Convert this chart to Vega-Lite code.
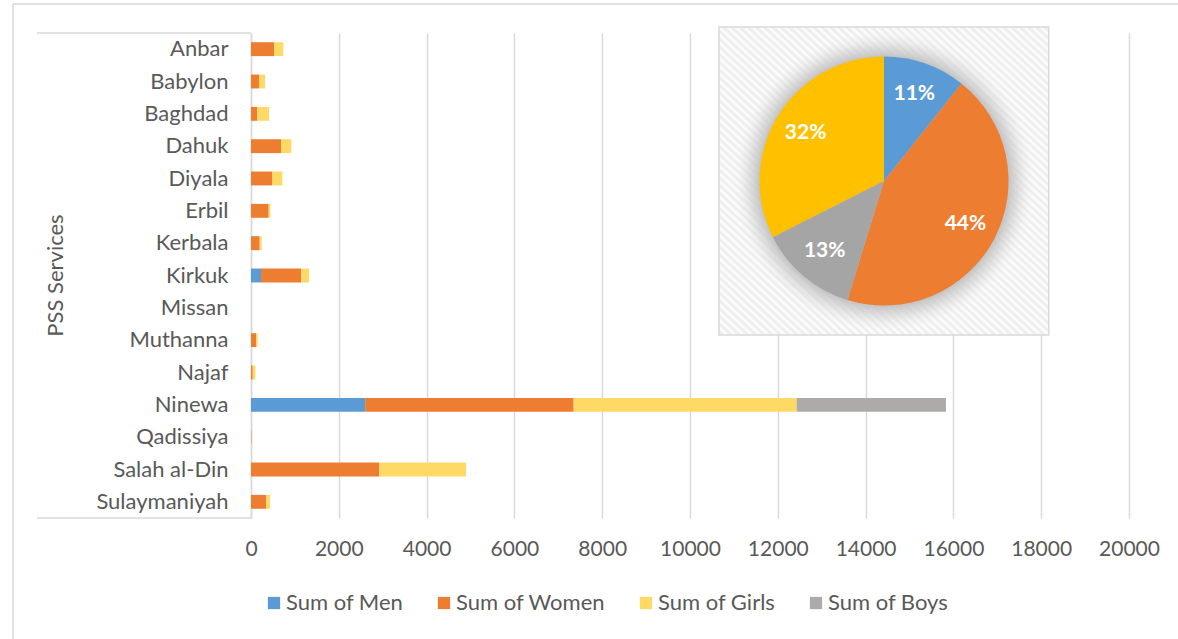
{
  "$schema": "https://vega.github.io/schema/vega-lite/v6.json",
  "width": 878,
  "height": 485,
  "autosize": {"type": "none"},
  "padding": {"left": 251, "top": 33, "right": 49, "bottom": 121},
  "background": "white",
  "config": {
    "font": "Lato",
    "view": {"stroke": null},
    "legend": {
      "orient": "none",
      "legendX": 12,
      "legendY": 559,
      "direction": "horizontal",
      "columns": 4,
      "symbolType": "square",
      "symbolSize": 150,
      "symbolStrokeWidth": 0,
      "labelFontSize": 22,
      "labelColor": "#595959",
      "labelOffset": 1,
      "columnPadding": 29,
      "padding": 0,
      "labelLimit": 300
    }
  },
  "datasets": {
    "pss": [
      {"province": "Anbar", "series": "Sum of Women", "value": 525},
      {"province": "Anbar", "series": "Sum of Girls", "value": 210},
      {"province": "Babylon", "series": "Sum of Women", "value": 182},
      {"province": "Babylon", "series": "Sum of Girls", "value": 137},
      {"province": "Baghdad", "series": "Sum of Women", "value": 137},
      {"province": "Baghdad", "series": "Sum of Girls", "value": 274},
      {"province": "Dahuk", "series": "Sum of Women", "value": 684},
      {"province": "Dahuk", "series": "Sum of Girls", "value": 235},
      {"province": "Diyala", "series": "Sum of Women", "value": 479},
      {"province": "Diyala", "series": "Sum of Girls", "value": 235},
      {"province": "Erbil", "series": "Sum of Women", "value": 403},
      {"province": "Erbil", "series": "Sum of Girls", "value": 38},
      {"province": "Kerbala", "series": "Sum of Women", "value": 198},
      {"province": "Kerbala", "series": "Sum of Girls", "value": 46},
      {"province": "Kirkuk", "series": "Sum of Men", "value": 228},
      {"province": "Kirkuk", "series": "Sum of Women", "value": 912},
      {"province": "Kirkuk", "series": "Sum of Girls", "value": 182},
      {"province": "Missan", "series": "Sum of Women", "value": 0},
      {"province": "Muthanna", "series": "Sum of Women", "value": 114},
      {"province": "Muthanna", "series": "Sum of Girls", "value": 39},
      {"province": "Najaf", "series": "Sum of Women", "value": 39},
      {"province": "Najaf", "series": "Sum of Girls", "value": 61},
      {"province": "Ninewa", "series": "Sum of Men", "value": 2600},
      {"province": "Ninewa", "series": "Sum of Women", "value": 4750},
      {"province": "Ninewa", "series": "Sum of Girls", "value": 5080},
      {"province": "Ninewa", "series": "Sum of Boys", "value": 3400},
      {"province": "Qadissiya", "series": "Sum of Women", "value": 8},
      {"province": "Salah al-Din", "series": "Sum of Women", "value": 2919},
      {"province": "Salah al-Din", "series": "Sum of Girls", "value": 1980},
      {"province": "Sulaymaniyah", "series": "Sum of Women", "value": 342},
      {"province": "Sulaymaniyah", "series": "Sum of Girls", "value": 91}
    ]
  },
  "layer": [
    {
      "data": {"name": "pss"},
      "transform": [
        {"calculate": "indexof(['Sum of Men','Sum of Women','Sum of Girls','Sum of Boys'], datum.series)", "as": "ord"}
      ],
      "mark": {"type": "bar"},
      "encoding": {
        "y": {
          "field": "province",
          "type": "nominal",
          "sort": "ascending",
          "scale": {"paddingInner": 0.57, "paddingOuter": 0.285},
          "axis": {
            "title": "PSS Services",
            "titleFontSize": 22,
            "titleFontWeight": "normal",
            "titleColor": "#595959",
            "titleX": -196,
            "titleY": 242,
            "titleAngle": -90,
            "titleAlign": "center",
            "titleBaseline": "middle",
            "labelFontSize": 22,
            "labelColor": "#595959",
            "labelPadding": 23,
            "labelLimit": 300,
            "ticks": false,
            "grid": false,
            "domainColor": "#d9d9d9",
            "domainWidth": 1.5
          }
        },
        "x": {
          "field": "value",
          "type": "quantitative",
          "stack": "zero",
          "scale": {"domain": [0, 20000], "nice": false, "zero": false},
          "axis": {
            "title": null,
            "values": [0, 2000, 4000, 6000, 8000, 10000, 12000, 14000, 16000, 18000, 20000],
            "format": "d",
            "labelFontSize": 21,
            "labelColor": "#595959",
            "labelPadding": 20,
            "labelFlush": false,
            "labelOverlap": false,
            "ticks": false,
            "domain": false,
            "grid": true,
            "gridColor": "#d9d9d9",
            "gridWidth": 1.5
          }
        },
        "color": {
          "field": "series",
          "type": "nominal",
          "scale": {
            "domain": ["Sum of Men", "Sum of Women", "Sum of Girls", "Sum of Boys"],
            "range": ["#5b9bd5", "#ed7d31", "#ffd966", "#aeaaaa"]
          },
          "legend": {"title": null}
        },
        "order": {"field": "ord", "type": "quantitative"}
      }
    },
    {
      "layer": [
        {
          "data": {"values": [{}]},
          "mark": {"type": "rect", "fillOpacity": 0, "stroke": "#d9d9d9", "strokeWidth": 1.5},
          "encoding": {
            "x": {"datum": -5421, "type": "quantitative", "scale": {"domain": [0, 20000], "nice": false, "zero": false}},
            "x2": {"datum": 26000},
            "y": {"datum": -29, "type": "quantitative", "scale": {"domain": [0, 485], "reverse": true, "nice": false, "zero": false}, "axis": null},
            "y2": {"datum": 700}
          }
        },
        {
          "data": {"values": [{}]},
          "mark": {"type": "rule", "stroke": "#d9d9d9", "strokeWidth": 1.5},
          "encoding": {
            "x": {"datum": -4875, "type": "quantitative", "scale": {"domain": [0, 20000], "nice": false, "zero": false}},
            "x2": {"datum": 0},
            "y": {"datum": 0, "type": "quantitative", "scale": {"domain": [0, 485], "reverse": true, "nice": false, "zero": false}, "axis": null}
          }
        },
        {
          "data": {"values": [{}]},
          "mark": {"type": "rule", "stroke": "#d9d9d9", "strokeWidth": 1.5},
          "encoding": {
            "x": {"datum": -4875, "type": "quantitative", "scale": {"domain": [0, 20000], "nice": false, "zero": false}},
            "x2": {"datum": 0},
            "y": {"datum": 485, "type": "quantitative", "scale": {"domain": [0, 485], "reverse": true, "nice": false, "zero": false}, "axis": null}
          }
        },
        {
          "data": {"values": [{}]},
          "mark": {
            "type": "rect",
            "stroke": "#d9d9d9",
            "strokeWidth": 1.5,
            "fill": {
              "gradient": "linear",
              "x1": 0, "y1": 1, "x2": 1, "y2": 0,
              "stops": [
                {"offset": 0, "color": "#ffffff"}, {"offset": 0.00625, "color": "#ebebeb"},
                {"offset": 0.0125, "color": "#ffffff"}, {"offset": 0.01875, "color": "#ebebeb"},
                {"offset": 0.025, "color": "#ffffff"}, {"offset": 0.03125, "color": "#ebebeb"},
                {"offset": 0.0375, "color": "#ffffff"}, {"offset": 0.04375, "color": "#ebebeb"},
                {"offset": 0.05, "color": "#ffffff"}, {"offset": 0.05625, "color": "#ebebeb"},
                {"offset": 0.0625, "color": "#ffffff"}, {"offset": 0.06875, "color": "#ebebeb"},
                {"offset": 0.075, "color": "#ffffff"}, {"offset": 0.08125, "color": "#ebebeb"},
                {"offset": 0.0875, "color": "#ffffff"}, {"offset": 0.09375, "color": "#ebebeb"},
                {"offset": 0.1, "color": "#ffffff"}, {"offset": 0.10625, "color": "#ebebeb"},
                {"offset": 0.1125, "color": "#ffffff"}, {"offset": 0.11875, "color": "#ebebeb"},
                {"offset": 0.125, "color": "#ffffff"}, {"offset": 0.13125, "color": "#ebebeb"},
                {"offset": 0.1375, "color": "#ffffff"}, {"offset": 0.14375, "color": "#ebebeb"},
                {"offset": 0.15, "color": "#ffffff"}, {"offset": 0.15625, "color": "#ebebeb"},
                {"offset": 0.1625, "color": "#ffffff"}, {"offset": 0.16875, "color": "#ebebeb"},
                {"offset": 0.175, "color": "#ffffff"}, {"offset": 0.18125, "color": "#ebebeb"},
                {"offset": 0.1875, "color": "#ffffff"}, {"offset": 0.19375, "color": "#ebebeb"},
                {"offset": 0.2, "color": "#ffffff"}, {"offset": 0.20625, "color": "#ebebeb"},
                {"offset": 0.2125, "color": "#ffffff"}, {"offset": 0.21875, "color": "#ebebeb"},
                {"offset": 0.225, "color": "#ffffff"}, {"offset": 0.23125, "color": "#ebebeb"},
                {"offset": 0.2375, "color": "#ffffff"}, {"offset": 0.24375, "color": "#ebebeb"},
                {"offset": 0.25, "color": "#ffffff"}, {"offset": 0.25625, "color": "#ebebeb"},
                {"offset": 0.2625, "color": "#ffffff"}, {"offset": 0.26875, "color": "#ebebeb"},
                {"offset": 0.275, "color": "#ffffff"}, {"offset": 0.28125, "color": "#ebebeb"},
                {"offset": 0.2875, "color": "#ffffff"}, {"offset": 0.29375, "color": "#ebebeb"},
                {"offset": 0.3, "color": "#ffffff"}, {"offset": 0.30625, "color": "#ebebeb"},
                {"offset": 0.3125, "color": "#ffffff"}, {"offset": 0.31875, "color": "#ebebeb"},
                {"offset": 0.325, "color": "#ffffff"}, {"offset": 0.33125, "color": "#ebebeb"},
                {"offset": 0.3375, "color": "#ffffff"}, {"offset": 0.34375, "color": "#ebebeb"},
                {"offset": 0.35, "color": "#ffffff"}, {"offset": 0.35625, "color": "#ebebeb"},
                {"offset": 0.3625, "color": "#ffffff"}, {"offset": 0.36875, "color": "#ebebeb"},
                {"offset": 0.375, "color": "#ffffff"}, {"offset": 0.38125, "color": "#ebebeb"},
                {"offset": 0.3875, "color": "#ffffff"}, {"offset": 0.39375, "color": "#ebebeb"},
                {"offset": 0.4, "color": "#ffffff"}, {"offset": 0.40625, "color": "#ebebeb"},
                {"offset": 0.4125, "color": "#ffffff"}, {"offset": 0.41875, "color": "#ebebeb"},
                {"offset": 0.425, "color": "#ffffff"}, {"offset": 0.43125, "color": "#ebebeb"},
                {"offset": 0.4375, "color": "#ffffff"}, {"offset": 0.44375, "color": "#ebebeb"},
                {"offset": 0.45, "color": "#ffffff"}, {"offset": 0.45625, "color": "#ebebeb"},
                {"offset": 0.4625, "color": "#ffffff"}, {"offset": 0.46875, "color": "#ebebeb"},
                {"offset": 0.475, "color": "#ffffff"}, {"offset": 0.48125, "color": "#ebebeb"},
                {"offset": 0.4875, "color": "#ffffff"}, {"offset": 0.49375, "color": "#ebebeb"},
                {"offset": 0.5, "color": "#ffffff"}, {"offset": 0.50625, "color": "#ebebeb"},
                {"offset": 0.5125, "color": "#ffffff"}, {"offset": 0.51875, "color": "#ebebeb"},
                {"offset": 0.525, "color": "#ffffff"}, {"offset": 0.53125, "color": "#ebebeb"},
                {"offset": 0.5375, "color": "#ffffff"}, {"offset": 0.54375, "color": "#ebebeb"},
                {"offset": 0.55, "color": "#ffffff"}, {"offset": 0.55625, "color": "#ebebeb"},
                {"offset": 0.5625, "color": "#ffffff"}, {"offset": 0.56875, "color": "#ebebeb"},
                {"offset": 0.575, "color": "#ffffff"}, {"offset": 0.58125, "color": "#ebebeb"},
                {"offset": 0.5875, "color": "#ffffff"}, {"offset": 0.59375, "color": "#ebebeb"},
                {"offset": 0.6, "color": "#ffffff"}, {"offset": 0.60625, "color": "#ebebeb"},
                {"offset": 0.6125, "color": "#ffffff"}, {"offset": 0.61875, "color": "#ebebeb"},
                {"offset": 0.625, "color": "#ffffff"}, {"offset": 0.63125, "color": "#ebebeb"},
                {"offset": 0.6375, "color": "#ffffff"}, {"offset": 0.64375, "color": "#ebebeb"},
                {"offset": 0.65, "color": "#ffffff"}, {"offset": 0.65625, "color": "#ebebeb"},
                {"offset": 0.6625, "color": "#ffffff"}, {"offset": 0.66875, "color": "#ebebeb"},
                {"offset": 0.675, "color": "#ffffff"}, {"offset": 0.68125, "color": "#ebebeb"},
                {"offset": 0.6875, "color": "#ffffff"}, {"offset": 0.69375, "color": "#ebebeb"},
                {"offset": 0.7, "color": "#ffffff"}, {"offset": 0.70625, "color": "#ebebeb"},
                {"offset": 0.7125, "color": "#ffffff"}, {"offset": 0.71875, "color": "#ebebeb"},
                {"offset": 0.725, "color": "#ffffff"}, {"offset": 0.73125, "color": "#ebebeb"},
                {"offset": 0.7375, "color": "#ffffff"}, {"offset": 0.74375, "color": "#ebebeb"},
                {"offset": 0.75, "color": "#ffffff"}, {"offset": 0.75625, "color": "#ebebeb"},
                {"offset": 0.7625, "color": "#ffffff"}, {"offset": 0.76875, "color": "#ebebeb"},
                {"offset": 0.775, "color": "#ffffff"}, {"offset": 0.78125, "color": "#ebebeb"},
                {"offset": 0.7875, "color": "#ffffff"}, {"offset": 0.79375, "color": "#ebebeb"},
                {"offset": 0.8, "color": "#ffffff"}, {"offset": 0.80625, "color": "#ebebeb"},
                {"offset": 0.8125, "color": "#ffffff"}, {"offset": 0.81875, "color": "#ebebeb"},
                {"offset": 0.825, "color": "#ffffff"}, {"offset": 0.83125, "color": "#ebebeb"},
                {"offset": 0.8375, "color": "#ffffff"}, {"offset": 0.84375, "color": "#ebebeb"},
                {"offset": 0.85, "color": "#ffffff"}, {"offset": 0.85625, "color": "#ebebeb"},
                {"offset": 0.8625, "color": "#ffffff"}, {"offset": 0.86875, "color": "#ebebeb"},
                {"offset": 0.875, "color": "#ffffff"}, {"offset": 0.88125, "color": "#ebebeb"},
                {"offset": 0.8875, "color": "#ffffff"}, {"offset": 0.89375, "color": "#ebebeb"},
                {"offset": 0.9, "color": "#ffffff"}, {"offset": 0.90625, "color": "#ebebeb"},
                {"offset": 0.9125, "color": "#ffffff"}, {"offset": 0.91875, "color": "#ebebeb"},
                {"offset": 0.925, "color": "#ffffff"}, {"offset": 0.93125, "color": "#ebebeb"},
                {"offset": 0.9375, "color": "#ffffff"}, {"offset": 0.94375, "color": "#ebebeb"},
                {"offset": 0.95, "color": "#ffffff"}, {"offset": 0.95625, "color": "#ebebeb"},
                {"offset": 0.9625, "color": "#ffffff"}, {"offset": 0.96875, "color": "#ebebeb"},
                {"offset": 0.975, "color": "#ffffff"}, {"offset": 0.98125, "color": "#ebebeb"},
                {"offset": 0.9875, "color": "#ffffff"}, {"offset": 0.99375, "color": "#ebebeb"},
                {"offset": 1, "color": "#ffffff"}
              ]
            }
          },
          "encoding": {
            "x": {"datum": 10661, "type": "quantitative", "scale": {"domain": [0, 20000], "nice": false, "zero": false}},
            "x2": {"datum": 18171},
            "y": {"datum": -6, "type": "quantitative", "scale": {"domain": [0, 485], "reverse": true, "nice": false, "zero": false}, "axis": null},
            "y2": {"datum": 302}
          }
        },
        {
          "data": {"values": [{}]},
          "mark": {
            "type": "arc",
            "radius": 150,
            "theta": 0,
            "theta2": 6.2832,
            "fill": {
              "gradient": "radial",
              "x1": 0.5, "y1": 0.5, "r1": 0,
              "x2": 0.5, "y2": 0.5, "r2": 0.5,
              "stops": [
                {"offset": 0, "color": "#c0c0c0"},
                {"offset": 0.83, "color": "#c4c4c4"},
                {"offset": 0.9, "color": "rgba(205,205,205,0.55)"},
                {"offset": 1, "color": "rgba(235,235,235,0)"}
              ]
            }
          },
          "encoding": {
            "x": {"datum": 14419, "type": "quantitative", "scale": {"domain": [0, 20000], "nice": false, "zero": false}},
            "y": {"datum": 148, "type": "quantitative", "scale": {"domain": [0, 485], "reverse": true, "nice": false, "zero": false}, "axis": null}
          }
        },
        {
          "data": {"name": "pss"},
          "transform": [
            {"aggregate": [{"op": "sum", "field": "value", "as": "total_v"}], "groupby": ["series"]},
            {"joinaggregate": [{"op": "sum", "field": "total_v", "as": "grand"}]},
            {"calculate": "datum.total_v / datum.grand", "as": "pct"},
            {"calculate": "indexof(['Sum of Men','Sum of Women','Sum of Boys','Sum of Girls'], datum.series)", "as": "pord"}
          ],
          "encoding": {
            "theta": {"field": "total_v", "type": "quantitative", "stack": true},
            "order": {"field": "pord", "type": "quantitative"},
            "x": {"datum": 14419, "type": "quantitative", "scale": {"domain": [0, 20000], "nice": false, "zero": false}},
            "y": {"datum": 148, "type": "quantitative", "scale": {"domain": [0, 485], "reverse": true, "nice": false, "zero": false}, "axis": null}
          },
          "layer": [
            {
              "mark": {"type": "arc", "radius": 124.5},
              "encoding": {
                "color": {
                  "field": "series",
                  "type": "nominal",
                  "scale": {
                    "domain": ["Sum of Men", "Sum of Women", "Sum of Boys", "Sum of Girls"],
                    "range": ["#5b9bd5", "#ed7d31", "#a5a5a5", "#ffc000"]
                  },
                  "legend": null
                }
              }
            },
            {
              "mark": {"type": "text", "radius": 92, "fontSize": 21, "fontWeight": "bold", "color": "white"},
              "encoding": {
                "text": {"field": "pct", "type": "quantitative", "format": ".0%"}
              }
            }
          ]
        }
      ]
    }
  ],
  "resolve": {"scale": {"y": "independent", "color": "independent"}}
}
